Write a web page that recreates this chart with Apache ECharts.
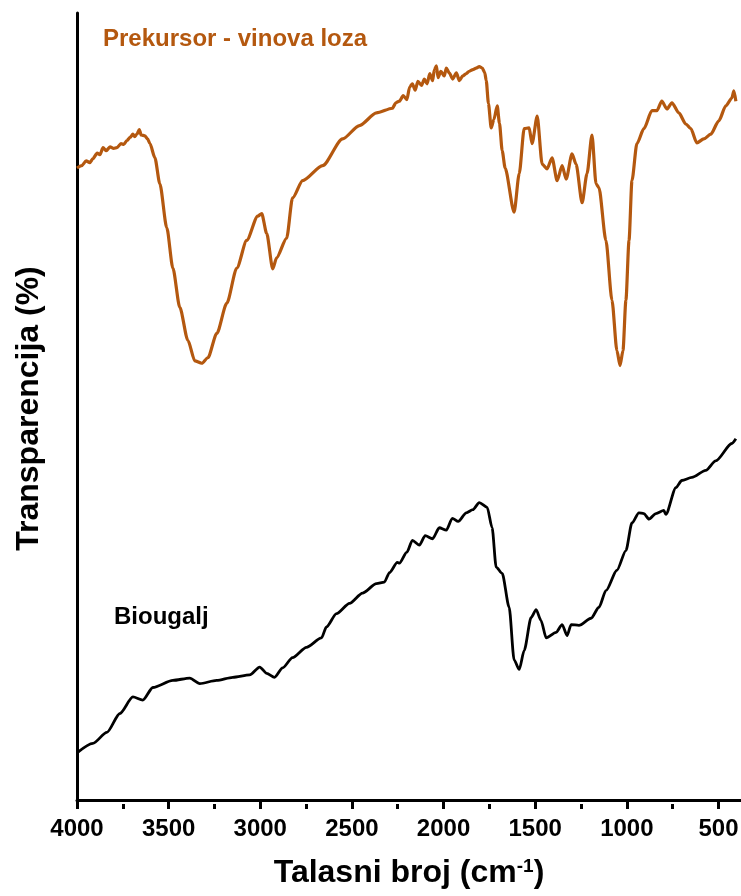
<!DOCTYPE html>
<html>
<head>
<meta charset="utf-8">
<script src="https://cdn.jsdelivr.net/npm/echarts@6/dist/echarts.min.js"></script>
<style>
html,body{margin:0;padding:0;background:#fff;}
#chart{width:741px;height:896px;}
</style>
</head>
<body>
<div id="chart"></div>
<script>
// Wavenumber ticks (cm^-1)
const majorTicks = [4000, 3500, 3000, 2500, 2000, 1500, 1000, 500];
const minorTicks = [3750, 3250, 2750, 2250, 1750, 1250, 750];

// Prekursor - vinova loza
const waveP = [4000,3975,3950,3930,3913,3890,3875,3858,3840,3820,3800,3782,3760,3745,3728,3710,3695,3685,3673,3660,3650,3630,3615,3602,3575,3548,3510,3477,3439,3395,3357,3319,3286,3237,3183,3128,3074,3014,2992,2965,2932,2911,2856,2824,2769,2660,2551,2459,2366,2279,2260,2241,2220,2200,2185,2170,2155,2140,2120,2105,2090,2075,2060,2050,2039,2030,2015,1996,1985,1969,1950,1930,1914,1895,1876,1860,1840,1822,1805,1789,1775,1767,1755,1740,1725,1707,1695,1680,1664,1615,1587,1560,1533,1517,1489,1462,1435,1408,1380,1353,1331,1299,1277,1244,1217,1190,1168,1152,1114,1081,1054,1037,1021,1005,988,972,945,907,863,836,809,781,754,716,678,651,618,580,542,498,460,427,416,405];
const transP = [80.3,80.6,81.2,81.0,81.5,82.2,82.0,82.9,82.5,83.0,82.8,82.9,83.4,83.3,83.8,84.2,84.6,84.3,84.6,85.2,84.5,84.4,84.0,83.4,81.6,78.3,72.7,67.6,62.6,58.4,55.8,55.5,56.2,59.3,63.1,67.6,71.1,74.2,74.5,72.0,67.5,68.9,71.4,76.5,78.7,80.6,84.0,85.7,87.3,87.9,88.6,88.8,89.5,89.0,90.6,91.0,90.2,91.3,90.8,91.6,91.0,92.3,91.4,92.8,93.3,91.8,92.6,92.0,93.0,92.4,91.6,92.4,91.4,92.0,92.3,92.6,92.8,93.0,93.2,93.0,92.4,91.4,88.5,85.4,86.5,88.2,86.0,82.5,80.3,74.7,79.6,85.3,85.4,83.4,86.9,80.8,80.2,81.6,78.7,80.6,78.9,82.1,80.8,75.9,79.6,84.5,78.3,77.8,71.1,63.5,57.1,55.2,57.1,63.5,71.1,78.7,83.4,85.3,87.6,87.6,88.8,87.8,88.6,87.3,85.9,85.3,83.5,84.0,84.6,86.3,88.2,89.2,90.1,88.8];

// Biougalj
const waveB = [4000,3913,3837,3766,3695,3641,3586,3477,3385,3330,3238,3150,3058,3003,2965,2922,2878,2824,2748,2666,2639,2584,2513,2442,2366,2323,2295,2252,2241,2200,2170,2132,2100,2060,2023,1985,1952,1920,1876,1840,1805,1762,1735,1713,1680,1642,1615,1587,1560,1522,1495,1468,1440,1386,1353,1326,1304,1261,1195,1152,1114,1054,1005,972,934,907,879,841,798,787,732,700,645,569,515,427,405];
const transB = [6.0,7.2,8.6,11.0,13.1,12.7,14.3,15.2,15.5,14.8,15.2,15.6,15.9,16.9,16.1,15.6,16.8,18.1,19.4,20.6,22.0,23.7,25.0,26.3,27.5,27.7,28.9,30.2,30.1,31.5,33.0,32.4,33.6,33.2,34.6,34.3,35.8,35.4,36.5,36.9,37.8,37.2,34.6,29.6,28.8,24.5,17.8,16.6,19.0,23.2,24.2,22.8,20.6,21.3,22.3,20.9,22.3,22.2,23.1,24.5,26.6,29.2,31.7,35.2,36.5,36.4,35.7,36.4,36.8,36.3,39.7,40.6,41.0,41.9,43.1,45.3,45.9];

const labelP = 'Prekursor - vinova loza';
const labelB = 'Biougalj';
const xTitle = 'Talasni broj (cm{sup|-1})';
const yTitle = 'Transparencija (%)';

const FONT = '"Liberation Sans", Arial, sans-serif';
const ORANGE = '#b4580f';

function pairs(xs, ys) { return xs.map((x, i) => [x, ys[i]]); }

const chart = echarts.init(document.getElementById('chart'), null, {renderer: 'canvas'});
chart.setOption({
  animation: false,
  backgroundColor: '#fff',
  grid: {left: 77, right: 0, top: 13, bottom: 92, containLabel: false, outerBoundsMode: 'none'},
  xAxis: [{
    type: 'value', min: 377, max: 4000, inverse: true, position: 'bottom',
    axisLine: {show: true, lineStyle: {color: '#000', width: 3}},
    axisTick: {show: true, customValues: majorTicks, length: 9, lineStyle: {color: '#000', width: 3}},
    axisLabel: {show: true, customValues: majorTicks, formatter: v => String(v), fontSize: 24, fontWeight: 'bold', color: '#000', fontFamily: FONT, margin: 13},
    splitLine: {show: false},
    name: xTitle, nameLocation: 'middle', nameGap: 53,
    nameTextStyle: {fontSize: 32, fontWeight: 'bold', color: '#000', fontFamily: FONT,
      rich: {sup: {fontSize: 19, fontWeight: 'bold', color: '#000', fontFamily: FONT, verticalAlign: 'top', lineHeight: 16}}}
  }, {
    type: 'value', min: 377, max: 4000, inverse: true, position: 'bottom',
    axisLine: {show: false},
    axisTick: {show: true, customValues: minorTicks, length: 5, lineStyle: {color: '#000', width: 3}},
    axisLabel: {show: false},
    splitLine: {show: false}
  }],
  yAxis: {
    type: 'value', min: -0.5, max: 100,
    axisLine: {show: true, lineStyle: {color: '#000', width: 3}},
    axisTick: {show: false}, axisLabel: {show: false}, splitLine: {show: false},
    name: yTitle, nameLocation: 'middle', nameGap: 32, nameRotate: 90,
    nameTextStyle: {fontSize: 32, fontWeight: 'bold', color: '#000', fontFamily: FONT}
  },
  series: [{
    type: 'line', data: pairs(waveP, transP), showSymbol: false, symbol: 'none',
    smooth: 0.25, smoothMonotone: 'x',
    lineStyle: {color: ORANGE, width: 3.2}
  }, {
    type: 'line', data: pairs(waveB, transB), showSymbol: false, symbol: 'none',
    smooth: 0.25, smoothMonotone: 'x',
    lineStyle: {color: '#000', width: 2.8}
  }],
  graphic: [{
    type: 'text', left: 103, top: 27,
    style: {text: labelP, fontSize: 24, fontWeight: 'bold', fill: ORANGE, fontFamily: FONT}
  }, {
    type: 'text', left: 114, top: 605,
    style: {text: labelB, fontSize: 24, fontWeight: 'bold', fill: '#000', fontFamily: FONT}
  }]
});
</script>
</body>
</html>
